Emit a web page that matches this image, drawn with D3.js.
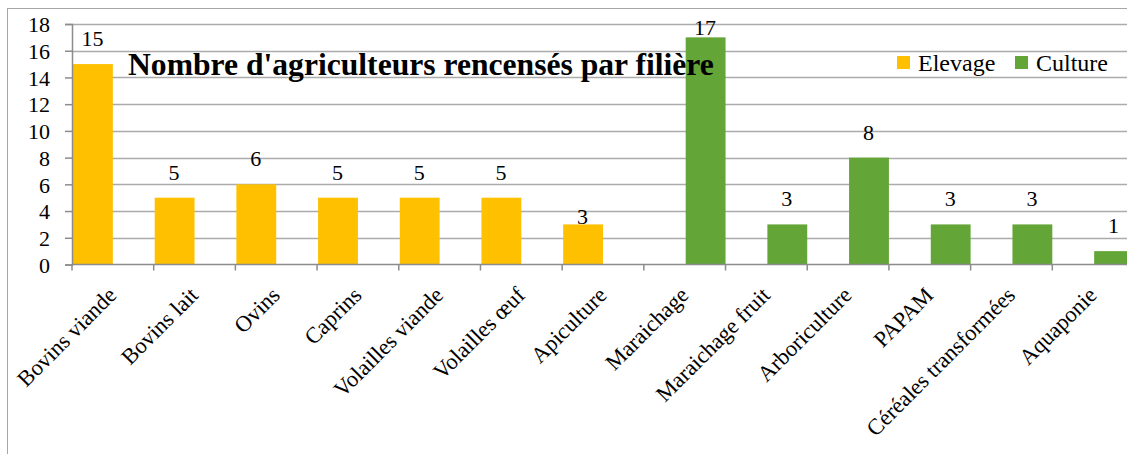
<!DOCTYPE html>
<html>
<head>
<meta charset="utf-8">
<script src="https://cdn.jsdelivr.net/npm/d3@7"></script>
<style>
  body { margin: 0; background: #fff; }
  svg text { font-family: "Liberation Serif", serif; fill: #000; }
</style>
</head>
<body>
<svg width="1127" height="454"></svg>
<script>
var categories = ["Bovins viande", "Bovins lait", "Ovins", "Caprins", "Volailles viande", "Volailles œuf", "Apiculture",
                  "Maraichage", "Maraichage fruit", "Arboriculture", "PAPAM", "Céréales transformées", "Aquaponie"];
var elevage = [15, 5, 6, 5, 5, 5, 3, null, null, null, null, null, null];
var culture = [null, null, null, null, null, null, null, 17, 3, 8, 3, 3, 1];
var seriesNames = ["Elevage", "Culture"];
var yTicks = [0, 2, 4, 6, 8, 10, 12, 14, 16, 18];
var title = "Nombre d'agriculteurs rencensés par filière";

var colors = {Elevage: "#ffc000", Culture: "#63a537"};
var serif = "'Liberation Serif', serif";

var svg = d3.select("svg"),
    margin = {top: 24, left: 72},
    width = 1062,
    height = 240.5,
    g = svg.append("g").attr("transform", "translate(" + margin.left + "," + margin.top + ")");

// chart frame
svg.append("rect")
    .attr("x", 7.5).attr("y", 8.5)
    .attr("width", 1140).attr("height", 460)
    .attr("fill", "none").attr("stroke", "#a6a6a6");

var x = d3.scaleBand().domain(categories).range([0, width]).padding(0),
    x1 = d3.scaleBand().domain(seriesNames).range([0, x.bandwidth()]).padding(0),
    y = d3.scaleLinear().domain([0, 18]).range([height, 0]);

// gridlines
g.selectAll(".grid")
  .data(yTicks.slice(1))
  .enter().append("line")
    .attr("x1", 0).attr("x2", width)
    .attr("y1", function(d) { return Math.round(y(d)) + 0.5; })
    .attr("y2", function(d) { return Math.round(y(d)) + 0.5; })
    .attr("stroke", "#ababab").attr("stroke-width", 1.5);

var data = [];
categories.forEach(function(c, i) {
  if (elevage[i] != null) data.push({cat: c, series: "Elevage", value: elevage[i]});
  if (culture[i] != null) data.push({cat: c, series: "Culture", value: culture[i]});
});

g.selectAll(".bar")
  .data(data)
  .enter().append("rect")
    .attr("x", function(d) { return x(d.cat) + x1(d.series) + 1; })
    .attr("width", x1.bandwidth() - 1)
    .attr("y", function(d) { return y(d.value); })
    .attr("height", function(d) { return height - y(d.value); })
    .attr("fill", function(d) { return colors[d.series]; });

// title sits over the plot, on top of the bars
var t = svg.append("text")
    .attr("x", 128).attr("y", 75)
    .style("font-family", serif)
    .style("font-size", "27px").style("font-weight", "bold")
    .text(title);
var tw = t.node().getComputedTextLength();
t.style("font-size", (27 * 586 / tw) + "px");

// value labels; Apiculture label sits right on its bar, 17 is pushed down by the top edge
g.selectAll(".val")
  .data(data)
  .enter().append("text")
    .attr("x", function(d) { return x(d.cat) + x1(d.series) + x1.bandwidth() / 2; })
    .attr("y", function(d) {
      if (d.cat === "Apiculture") return y(d.value);
      return Math.max(y(d.value) - 18, 11);
    })
    .attr("text-anchor", "middle")
    .style("font-family", serif)
    .style("font-size", "22px")
    .text(function(d) { return d.value; });

// y axis
var yAxis = g.append("g")
    .call(d3.axisLeft(y).tickValues(yTicks).tickSize(7).tickPadding(15));
yAxis.select(".domain").attr("stroke", "#8c8c8c").attr("stroke-width", 1.5);
yAxis.selectAll(".tick line").attr("stroke", "#8c8c8c").attr("stroke-width", 1.5);
yAxis.selectAll(".tick text")
    .style("font-size", "22px").style("font-family", serif)
    .attr("fill", "#000").attr("dy", "0.35em");

// x axis
var xg = g.append("g").attr("transform", "translate(0," + height + ")");
xg.append("line").attr("x1", 0).attr("x2", width).attr("stroke", "#8c8c8c").attr("stroke-width", 1.5);
xg.selectAll(".xt")
  .data(categories.concat([null]))
  .enter().append("line")
    .attr("x1", function(d, i) { return i * x.bandwidth(); })
    .attr("x2", function(d, i) { return i * x.bandwidth(); })
    .attr("y1", 0).attr("y2", 6)
    .attr("stroke", "#8c8c8c").attr("stroke-width", 1.5);
xg.selectAll(".xl")
  .data(categories)
  .enter().append("text")
    .attr("transform", function(d) { return "translate(" + (x(d) + x.bandwidth() / 2 + 5) + ",32) rotate(-45)"; })
    .attr("text-anchor", "end")
    .style("font-family", serif)
    .style("font-size", "22.5px")
    .text(function(d) { return d; });

// legend
var legend = svg.append("g");
var lx = [897, 1015];
seriesNames.forEach(function(s, i) {
  legend.append("rect").attr("x", lx[i]).attr("y", 56).attr("width", 13).attr("height", 13).attr("fill", colors[s]);
  legend.append("text").attr("x", lx[i] + 21).attr("y", 71)
      .style("font-family", serif).style("font-size", "24px").text(s);
});
</script>
</body>
</html>
